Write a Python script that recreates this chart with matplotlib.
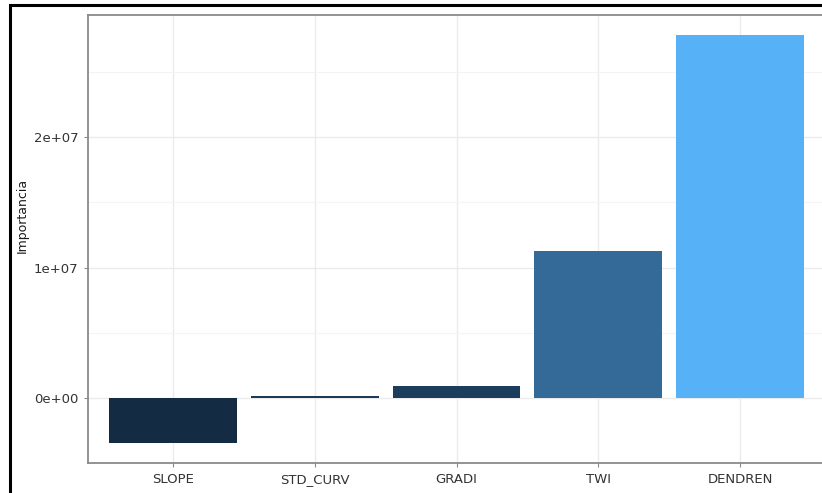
import numpy as np
import matplotlib
matplotlib.use("Agg")
import matplotlib.pyplot as plt
from matplotlib.colors import LinearSegmentedColormap, Normalize
from matplotlib.patches import Rectangle
from matplotlib.ticker import FuncFormatter, MultipleLocator

# valeurs
variables = ["SLOPE", "STD_CURV", "GRADI", "TWI", "DENDREN"]
importance = [-3.47e6, 1.5e5, 9.0e5, 1.126e7, 2.78e7]

W, H = 822, 493
fig = plt.figure(figsize=(W / 100, H / 100), dpi=100)

def fx(px):
    return px / W

def fy(py):
    return 1 - py / H

# panneau : x 88 -> 825 (coupé à droite), y 15 -> 463
ax = fig.add_axes([fx(88), fy(463), fx(825) - fx(88), fy(15) - fy(463)])

# dégradé type ggplot (#132B43 -> #56B1F7) selon la valeur
cmap = LinearSegmentedColormap.from_list("gg", ["#132B43", "#56B1F7"])
norm = Normalize(min(importance), max(importance))
x = np.arange(1, len(variables) + 1)
ax.bar(x, importance, width=0.9, color=cmap(norm(np.array(importance))),
       zorder=3, linewidth=0)

ax.set_xlim(0.4, 5.6)
ax.set_ylim(-4.98e6, 2.935e7)
ax.set_xticks(x)
ax.set_xticklabels(variables)
ax.yaxis.set_major_locator(MultipleLocator(1e7))
ax.yaxis.set_minor_locator(MultipleLocator(5e6))
ax.yaxis.set_major_formatter(FuncFormatter(lambda v, p: "%.0e" % v))

ax.grid(True, which="major", color="#ebebeb", lw=1.0, zorder=0)
ax.grid(True, which="minor", axis="y", color="#f4f4f4", lw=0.8, zorder=0)
ax.set_axisbelow(True)

for s in ax.spines.values():
    s.set_color("#8a8a8a")
    s.set_linewidth(1.3)

ax.tick_params(axis="both", which="major", length=3, width=0.8, color="#8a8a8a",
               labelsize=9.5, labelcolor="#333333", pad=4)
ax.tick_params(axis="y", which="minor", length=0)
ax.tick_params(axis="x", pad=4)

fig.text(fx(22), fy(215), "Importancia", rotation=90, ha="center", va="center",
         fontsize=9, color="#1a1a1a")

# cadre noir extérieur (bords droit et bas hors image)
fig.patches.append(Rectangle((fx(10), -0.1), 1.2, fy(5) + 0.1, transform=fig.transFigure,
                             fill=False, edgecolor="black", lw=2.2, zorder=10))

fig.savefig("out.png", dpi=100)
